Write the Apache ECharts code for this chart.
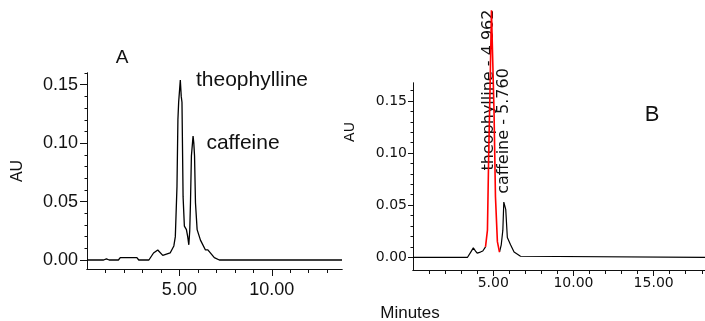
<!DOCTYPE html>
<html>
<head>
<meta charset="utf-8">
<script src="https://cdn.jsdelivr.net/npm/echarts@6/dist/echarts.min.js"></script>
<style>
  html, body { margin: 0; padding: 0; background: #fff; }
  #chart { width: 705px; height: 321px; }
</style>
</head>
<body>
<div id="chart"></div>
<script>
// panel A: one chromatogram, [minutes, AU]
var traceA = [
  [0, 0], [0.9, 0], [1.05, 0.001], [1.2, 0], [1.7, 0], [1.8, 0.002], [2.7, 0.002], [2.8, 0],
  [3.35, 0], [3.6, 0.006], [3.83, 0.0086], [4.1, 0.004], [4.3, 0.005], [4.5, 0.006],
  [4.7, 0.012], [4.78, 0.02], [4.87, 0.063], [4.92, 0.12], [4.96, 0.135], [5.05, 0.154],
  [5.1, 0.14], [5.14, 0.135], [5.2, 0.054], [5.27, 0.029], [5.32, 0.03], [5.38, 0.026],
  [5.45, 0.02], [5.51, 0.013], [5.56, 0.025], [5.6, 0.049], [5.65, 0.089], [5.74, 0.106],
  [5.78, 0.1], [5.82, 0.089], [5.87, 0.049], [5.96, 0.026], [6.14, 0.017], [6.41, 0.0086],
  [6.54, 0.0086], [6.89, 0.002], [7.16, 0], [13.8, 0]
];

// panel B: black trace before / after the red theophylline peak
var traceBpre = [
  [0, 0], [3.4, 0], [3.6, 0.005], [3.76, 0.009], [3.9, 0.006], [4.0, 0.004],
  [4.2, 0.005], [4.35, 0.006], [4.52, 0.01]
];
var peakBred = [
  [4.52, 0.01], [4.64, 0.026], [4.72, 0.1], [4.8, 0.16], [4.89, 0.237], [4.98, 0.237],
  [5.05, 0.14], [5.14, 0.058], [5.26, 0.015], [5.39, 0.005]
];
var traceBpost = [
  [5.39, 0.005], [5.5, 0.012], [5.6, 0.026], [5.66, 0.053], [5.72, 0.054], [5.78, 0.046],
  [5.88, 0.019], [6.08, 0.012], [6.3, 0.005], [6.7, 0.001], [6.8, 0], [18.2, 0]
];

// tick positions
var aXMajor = [5, 10];
var aXMinor = [1, 2, 3, 4, 6, 7, 8, 9, 11, 12, 13];
var bXMajor = [5, 10, 15];
var bXMinor = [1, 2, 3, 4, 6, 7, 8, 9, 11, 12, 13, 14, 16, 17, 18];
var yMajor = [0, 0.05, 0.1, 0.15];
var yMinor = [0.01, 0.02, 0.03, 0.04, 0.06, 0.07, 0.08, 0.09, 0.11, 0.12, 0.13, 0.14, 0.16];

var ink = "#111";
var sansA = '"Liberation Sans", Arial, sans-serif';
var sansB = '"DejaVu Sans", Verdana, sans-serif';

function fmt2(v) { return Number(v).toFixed(2); }

function xAx(grid, max, major, minor, font, size, margin, majorLen, isMinor) {
  return {
    type: "value", gridIndex: grid, position: "bottom", offset: 0, min: 0, max: max,
    axisLine: { show: true, onZero: false, lineStyle: { color: ink, width: 1 } },
    axisTick: { show: true, inside: false, length: isMinor ? 4 : majorLen,
      customValues: isMinor ? minor : major, lineStyle: { color: ink, width: 1 } },
    axisLabel: { show: !isMinor, customValues: major, formatter: fmt2, margin: margin,
      color: ink, fontFamily: font, fontSize: size },
    splitLine: { show: false }
  };
}
function yAx(grid, min, max, font, size, margin, majorLen, isMinor) {
  return {
    type: "value", gridIndex: grid, position: "left", offset: 0, min: min, max: max,
    axisLine: { show: true, onZero: false, lineStyle: { color: ink, width: 1 } },
    axisTick: { show: true, inside: false, length: isMinor ? 2.5 : majorLen,
      customValues: isMinor ? yMinor : yMajor, lineStyle: { color: ink, width: 1 } },
    axisLabel: { show: !isMinor, customValues: yMajor, formatter: fmt2, margin: margin,
      color: ink, fontFamily: font, fontSize: size },
    splitLine: { show: false }
  };
}

function lineSeries(data, xi, yi, color, width) {
  return {
    type: "line", data: data, xAxisIndex: xi, yAxisIndex: yi, symbol: "none",
    showSymbol: false, clip: false, smooth: false,
    lineStyle: { color: color, width: width }, z: color === "#000" ? 2 : 3
  };
}

function txt(x, y, text, font, rot) {
  return {
    type: "text", x: x, y: y, rotation: rot || 0,
    style: { text: text, font: font, fill: ink, align: "center", verticalAlign: "middle",
      textAlign: "center", textVerticalAlign: "middle" }
  };
}

var chart = echarts.init(document.getElementById("chart"), null, { renderer: "canvas" });
var option = {
  animation: false,
  backgroundColor: "#fff",
  grid: [
    { left: 87, top: 73, width: 255, height: 196 },
    { left: 413, top: 83, width: 292, height: 187 }
  ],
  xAxis: [
    xAx(0, 13.8, aXMajor, aXMinor, sansA, 18, 12, 7, false),
    xAx(0, 13.8, aXMajor, aXMinor, sansA, 18, 12, 7, true),
    xAx(1, 18.2, bXMajor, bXMinor, sansB, 14, 6, 6, false),
    xAx(1, 18.2, bXMajor, bXMinor, sansB, 14, 6, 6, true)
  ],
  yAxis: [
    yAx(0, -0.0077, 0.16, sansA, 18, 9, 7, false),
    yAx(0, -0.0077, 0.16, sansA, 18, 9, 7, true),
    yAx(1, -0.0122, 0.1672, sansB, 14, 6, 5, false),
    yAx(1, -0.0122, 0.1672, sansB, 14, 6, 5, true)
  ],
  series: [
    lineSeries(traceA, 0, 0, "#000", 1.3),
    lineSeries(traceBpre, 2, 2, "#000", 1.2),
    lineSeries(traceBpost, 2, 2, "#000", 1.2),
    lineSeries(peakBred, 2, 2, "#ff0000", 1.6)
  ],
  graphic: [
    txt(122, 58, "A", "19px " + sansA),
    txt(18, 171, "AU", "16px " + sansA, Math.PI / 2),
    txt(252, 80, "theophylline", "21px " + sansA),
    txt(243, 143, "caffeine", "21px " + sansA),
    txt(652, 115, "B", "22px " + sansA),
    txt(350, 132, "AU", "14px " + sansB, Math.PI / 2),
    txt(489, 90, "theophylline - 4.962", "16px " + sansB, Math.PI / 2),
    txt(504, 131, "caffeine - 5.760", "16px " + sansB, Math.PI / 2),
    txt(410, 313, "Minutes", "17px " + sansA)
  ]
};
chart.setOption(option);
</script>
</body>
</html>
